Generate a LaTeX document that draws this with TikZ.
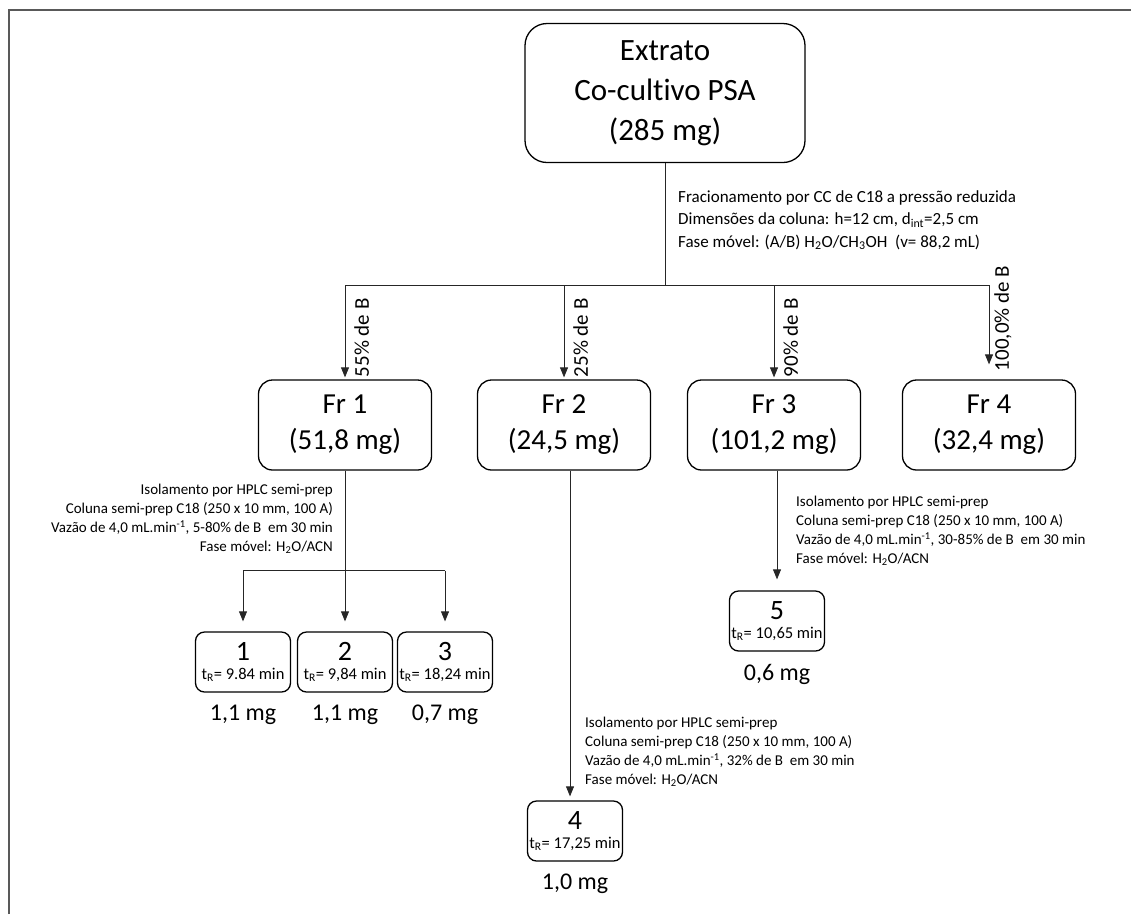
\documentclass[tikz,border=0pt]{standalone}
\usepackage{fontspec}
\setmainfont{Carlito}[Ligatures=NoCommon]
\usetikzlibrary{arrows.meta,positioning}

\begin{document}
\begin{tikzpicture}[x=1pt,y=-1pt,
    link/.style={draw=black!85,line width=0.8pt},
    arr/.style={link,-{Triangle[length=10pt,width=8pt]}},
    extract/.style={draw,line width=1.3pt,rounded corners=22pt,
            align=center,inner sep=0pt,
            minimum width=280pt,minimum height=139pt,
            font=\fontsize{31}{40}\selectfont},
    fraction/.style={draw,line width=1.3pt,rounded corners=14pt,
            align=center,inner sep=0pt,
            minimum width=173pt,minimum height=90pt,
            font=\fontsize{29}{36}\selectfont},
    compound/.style={draw,line width=1.3pt,rounded corners=9pt,
            align=center,inner sep=0pt,
            minimum width=95pt,minimum height=60pt,
            font=\fontsize{16.5}{19}\selectfont},
    mass/.style={inner sep=0pt,font=\fontsize{24}{28}\selectfont},
    cond/.style={inner sep=0pt,font=\fontsize{15}{19}\selectfont},
    gradient/.style={inner sep=0pt,rotate=90,anchor=north west,
            font=\fontsize{21}{24}\selectfont}]
    \useasboundingbox (0,0) rectangle (1131,914);
    \draw[black!65,line width=1.5pt] (9,914) -- (9,10) -- (1131,10);
    % extract and fractions
    \node[extract] (extr) at (665,93) {Extrato\\Co-cultivo PSA\\(285 mg)};
    \node[fraction] (fr1) at (345,425) {Fr 1\\(51,8 mg)};
    \node[fraction] (fr2) at (564,425) {Fr 2\\(24,5 mg)};
    \node[fraction] (fr3) at (774,425) {Fr 3\\(101,2 mg)};
    \node[fraction] (fr4) at (989,425) {Fr 4\\(32,4 mg)};
    \node[cond,anchor=north west,align=left,
          font=\fontsize{17}{22.5}\selectfont] (cc) at (678,190)
        {Fracionamento por CC de C18 a pressão reduzida\\
         Dimensões da coluna: h=12 cm, d\textsubscript{int}=2,5 cm\\
         Fase móvel: (A/B) H\textsubscript{2}O/CH\textsubscript{3}OH\ \ (v= 88,2 mL)};
    \coordinate (split) at (665,285);
    \draw[link] (extr) -- (split);
    \draw[link] (split -| fr1) -- (split -| fr4);
    \foreach \i in {1,2,3}
       \draw[arr,shorten >=2pt] (split -| fr\i) -- (fr\i);
    \draw[arr,shorten >=15pt] (split -| fr4) -- (fr4);
    \foreach \i/\t in {1/55\%,2/25\%,3/90\%}
       \node[gradient] (g\i) at ([xshift=9pt,yshift=2pt]fr\i.north) {\t\ de B};
    \node[gradient] (g4) at ([xshift=5pt,yshift=8pt]fr4.north) {100,0\% de B};
    % compounds of Fr 1
    \node[compound] (c1) at (243,662)
       {{\fontsize{28}{28}\selectfont 1}\\t\textsubscript{R}= 9.84 min};
    \node[compound] (c2) at (345,662)
       {{\fontsize{28}{28}\selectfont 2}\\t\textsubscript{R}= 9,84 min};
    \node[compound] (c3) at (445,662)
       {{\fontsize{28}{28}\selectfont 3}\\t\textsubscript{R}= 18,24 min};
    \node[mass,below=12pt of c1] (m1) {1,1 mg};
    \node[mass,below=12pt of c2] (m2) {1,1 mg};
    \node[mass,below=12pt of c3] (m3) {0,7 mg};
    \node[cond,anchor=north east,align=right] (hplc1) at (333,484)
       {Isolamento por HPLC semi-prep\\
        Coluna semi-prep C18 (250 x 10 mm, 100 A)\\
        Vazão de 4,0 mL.min\textsuperscript{-1}, 5-80\% de B\ \ em 30 min\\
        Fase móvel: H\textsubscript{2}O/ACN};
    \path (fr1.south) ++(0,100) coordinate (sub1);
    \draw[link] (fr1) -- (sub1);
    \draw[link] (sub1 -| c1) -- (sub1 -| c3);
    \foreach \i in {1,2,3}
       \draw[arr,shorten >=10pt] (sub1 -| c\i) -- (c\i);
    % compound of Fr 2
    \node[compound] (c4) at (575,831)
       {{\fontsize{28}{28}\selectfont 4}\\t\textsubscript{R}= 17,25 min};
    \node[mass,below=12pt of c4] (m4) {1,0 mg};
    \node[cond,anchor=north west,align=left] (hplc2) at (585,717)
       {Isolamento por HPLC semi-prep\\
        Coluna semi-prep C18 (250 x 10 mm, 100 A)\\
        Vazão de 4,0 mL.min\textsuperscript{-1}, 32\% de B\ \ em 30 min\\
        Fase móvel: H\textsubscript{2}O/ACN};
    \draw[arr,shorten >=4pt] (fr2.south -| 570,0) -- (c4.north -| 570,0);
    % compound of Fr 3
    \node[compound] (c5) at (777,621)
       {{\fontsize{28}{28}\selectfont 5}\\t\textsubscript{R}= 10,65 min};
    \node[mass,below=12pt of c5] (m5) {0,6 mg};
    \node[cond,anchor=north west,align=left] (hplc3) at (796,496)
       {Isolamento por HPLC semi-prep\\
        Coluna semi-prep C18 (250 x 10 mm, 100 A)\\
        Vazão de 4,0 mL.min\textsuperscript{-1}, 30-85\% de B\ \ em 30 min\\
        Fase móvel: H\textsubscript{2}O/ACN};
    \draw[arr,shorten >=11pt] (fr3.south -| c5) -- (c5);
\end{tikzpicture}
\end{document}
